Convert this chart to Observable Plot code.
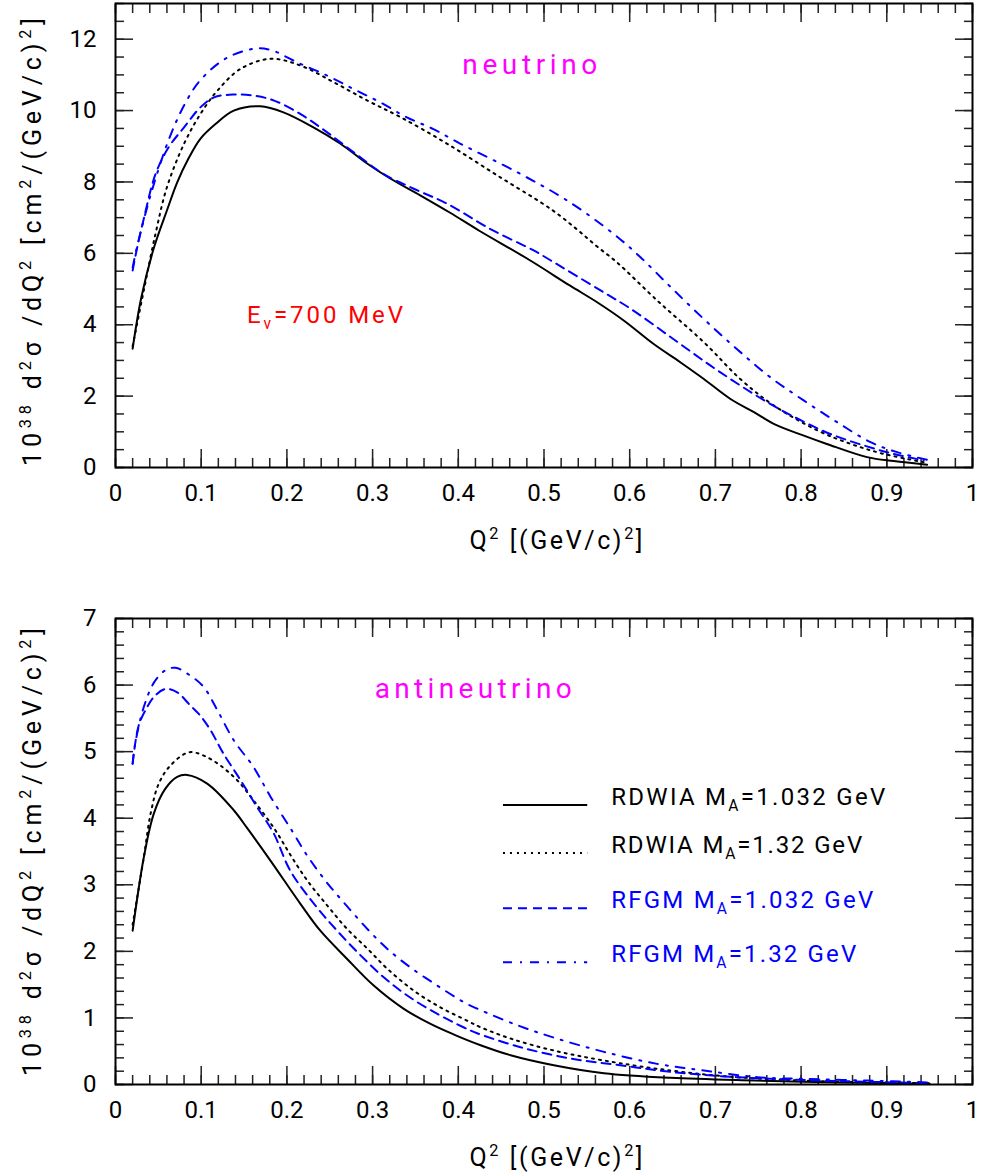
<!DOCTYPE html>
<html>
<head>
<meta charset="utf-8">
<script src="https://cdn.jsdelivr.net/npm/d3@7"></script>
<script src="https://cdn.jsdelivr.net/npm/@observablehq/plot@0.6"></script>
<style>
  html, body { margin: 0; padding: 0; background: #fff; }
  #chart svg { display: block; }
</style>
</head>
<body>
<div id="chart"></div>
<script>
// ---------------- data ----------------
const xMajor = [0, 0.1, 0.2, 0.3, 0.4, 0.5, 0.6, 0.7, 0.8, 0.9, 1];
const yMajorNu = [0, 2, 4, 6, 8, 10, 12];
const yMajorAnti = [0, 1, 2, 3, 4, 5, 6, 7];

const modelNames = ["RDWIA", "RDWIA", "RFGM", "RFGM"];
const axialMasses = ["1.032", "1.32", "1.032", "1.32"];

// neutrino, E = 700 MeV : [Q2, cross section]
const nuRdwia1032 = [[0.02,3.33],[0.03,4.75],[0.045,6.17],[0.06,7.2],[0.072,7.99],[0.085,8.65],[0.099,9.21],[0.117,9.63],[0.138,10.0],[0.169,10.12],[0.196,9.95],[0.231,9.53],[0.2625,9.07],[0.294,8.51],[0.321,8.09],[0.356,7.62],[0.391,7.13],[0.424,6.64],[0.484,5.80],[0.53,5.1],[0.562,4.63],[0.593,4.12],[0.628,3.46],[0.659,2.95],[0.6865,2.48],[0.7176,1.92],[0.745,1.55],[0.77,1.2],[0.80,0.92],[0.83,0.66],[0.877,0.29],[0.908,0.18],[0.947,0.08]];
const nuRdwia132 = [[0.02,3.4],[0.033,4.96],[0.0467,6.55],[0.06,7.85],[0.08,9.07],[0.099,9.9],[0.119,10.56],[0.146,11.17],[0.181,11.45],[0.216,11.26],[0.255,10.79],[0.294,10.28],[0.333,9.81],[0.387,9.07],[0.449,8.13],[0.508,7.24],[0.539,6.66],[0.562,6.19],[0.585,5.75],[0.632,4.68],[0.6865,3.51],[0.729,2.48],[0.768,1.74],[0.819,1.04],[0.858,0.66],[0.8965,0.38],[0.943,0.15]];
const nuRfgm1032 = [[0.02,5.52],[0.025,6.13],[0.033,6.97],[0.0467,8.22],[0.062,8.97],[0.08,9.53],[0.099,10.09],[0.115,10.37],[0.138,10.45],[0.161,10.42],[0.185,10.28],[0.216,9.9],[0.247,9.39],[0.278,8.83],[0.313,8.22],[0.348,7.81],[0.387,7.39],[0.4375,6.68],[0.488,6.08],[0.508,5.80],[0.566,4.96],[0.601,4.45],[0.648,3.65],[0.694,2.86],[0.729,2.30],[0.764,1.78],[0.80,1.32],[0.834,0.94],[0.873,0.62],[0.908,0.38],[0.943,0.20]];
const nuRfgm132 = [[0.02,5.6],[0.025,6.17],[0.043,7.8],[0.064,9.3],[0.0835,10.3],[0.099,10.85],[0.128,11.45],[0.161,11.73],[0.181,11.7],[0.212,11.35],[0.247,10.98],[0.278,10.6],[0.309,10.23],[0.34,9.81],[0.371,9.48],[0.4026,9.07],[0.469,8.27],[0.527,7.48],[0.581,6.55],[0.6126,5.89],[0.648,5.05],[0.6865,4.16],[0.725,3.32],[0.764,2.53],[0.803,1.88],[0.842,1.27],[0.881,0.71],[0.912,0.43],[0.95,0.2]];

// antineutrino
const antiRdwia1032 = [[0.02,2.31],[0.033,3.41],[0.0447,4.07],[0.058,4.44],[0.072,4.62],[0.0835,4.65],[0.107,4.52],[0.138,4.12],[0.1537,3.85],[0.181,3.36],[0.216,2.71],[0.239,2.31],[0.27,1.89],[0.301,1.49],[0.336,1.14],[0.3676,0.91],[0.395,0.75],[0.426,0.59],[0.461,0.44],[0.5115,0.29],[0.57,0.17],[0.6476,0.10],[0.745,0.06],[0.85,0.03],[0.95,0.01]];
const antiRdwia132 = [[0.02,2.4],[0.033,3.41],[0.041,4.07],[0.0505,4.52],[0.064,4.79],[0.0855,4.99],[0.103,4.94],[0.1225,4.79],[0.142,4.57],[0.161,4.27],[0.185,3.85],[0.204,3.45],[0.224,3.06],[0.247,2.69],[0.27,2.34],[0.294,2.04],[0.317,1.74],[0.348,1.41],[0.379,1.16],[0.41,0.96],[0.426,0.86],[0.461,0.69],[0.5115,0.51],[0.57,0.36],[0.6476,0.21],[0.725,0.11],[0.85,0.04],[0.95,0.02]];
const antiRfgm1032 = [[0.02,4.82],[0.027,5.39],[0.037,5.67],[0.0447,5.82],[0.058,5.94],[0.072,5.89],[0.0875,5.69],[0.099,5.54],[0.111,5.32],[0.126,4.97],[0.146,4.57],[0.165,4.17],[0.1847,3.77],[0.204,3.21],[0.235,2.66],[0.2586,2.31],[0.286,1.94],[0.313,1.61],[0.34,1.34],[0.3714,1.09],[0.406,0.86],[0.422,0.77],[0.4726,0.56],[0.531,0.39],[0.589,0.29],[0.6476,0.19],[0.725,0.11],[0.85,0.05],[0.95,0.02]];
const antiRfgm132 = [[0.02,4.82],[0.023,5.12],[0.033,5.67],[0.045,6.04],[0.058,6.22],[0.07,6.26],[0.0875,6.14],[0.103,5.97],[0.119,5.62],[0.138,5.17],[0.161,4.77],[0.181,4.32],[0.206,3.81],[0.2236,3.44],[0.245,3.06],[0.268,2.71],[0.2936,2.34],[0.317,2.04],[0.344,1.76],[0.375,1.49],[0.406,1.24],[0.422,1.14],[0.469,0.89],[0.515,0.69],[0.57,0.49],[0.632,0.31],[0.6865,0.21],[0.749,0.11],[0.80,0.085],[0.877,0.06],[0.95,0.03]];

// ---------------- styles / layout ----------------
const FONT = "Roboto, 'Liberation Sans', 'DejaVu Sans', sans-serif";
const BLUE = "#0000ff";
const seriesStyles = [
  {stroke: "#000", strokeWidth: 2, strokeDasharray: null},
  {stroke: "#000", strokeWidth: 2, strokeDasharray: "2,5"},
  {stroke: BLUE, strokeWidth: 2, strokeDasharray: "9,6"},
  {stroke: BLUE, strokeWidth: 2, strokeDasharray: "9,8,2,8"}
];
const xMinor = d3.range(0, 1.0001, 0.02).map(d => +d.toFixed(2));

function toRows(pairs) { return pairs.map(([q, v]) => ({q, v})); }

function panel({series, yDomain, yMajor, yMinorStep, height, marginTop, marginBottom}) {
  const yMinor = d3.range(yDomain[0], yDomain[1] + 1e-6, yMinorStep).map(d => +d.toFixed(2));
  const tk = {stroke: "#222", strokeWidth: 1.5, fill: null, label: null};
  return Plot.plot({
    width: 982, height, marginLeft: 115, marginRight: 10, marginTop, marginBottom,
    x: {domain: [0, 1], label: null},
    y: {domain: yDomain, label: null},
    style: {fontFamily: FONT, fontSize: "24px", background: "#fff", color: "#000"},
    marks: [
      Plot.axisX(xMinor, {...tk, anchor: "bottom", tickSize: -9}),
      Plot.axisX(xMinor, {...tk, anchor: "top", tickSize: -9}),
      Plot.axisX(xMajor, {...tk, anchor: "bottom", tickSize: -18}),
      Plot.axisX(xMajor, {...tk, anchor: "top", tickSize: -18}),
      Plot.axisY(yMinor, {...tk, anchor: "left", tickSize: -9}),
      Plot.axisY(yMinor, {...tk, anchor: "right", tickSize: -9}),
      Plot.axisY(yMajor, {...tk, anchor: "left", tickSize: -18}),
      Plot.axisY(yMajor, {...tk, anchor: "right", tickSize: -18}),
      Plot.axisX(xMajor, {anchor: "bottom", tickSize: 0, tickPadding: 16, label: null, tickFormat: d => String(d), fontSize: 24}),
      Plot.axisY(yMajor, {anchor: "left", tickSize: 0, tickPadding: 19, label: null, tickFormat: d => String(d), fontSize: 24}),
      ...series.map((s, i) => Plot.line(toRows(s), {x: "q", y: "v", curve: "catmull-rom", ...seriesStyles[i]})),
      Plot.frame({stroke: "#000", strokeWidth: 2})
    ]
  });
}

// rich text with sub/superscripts
function rich(svg, {x, y, parts, fill = "#000", size = 24, anchor = "start", rotate = 0, length = null}) {
  const t = d3.select(svg).append("text")
    .attr("transform", `translate(${x},${y}) rotate(${rotate})`)
    .attr("fill", fill).attr("font-family", FONT).attr("font-size", size)
    .attr("text-anchor", anchor);
  if (length) t.attr("textLength", length).attr("lengthAdjust", "spacing");
  let shift = 0;
  for (const [str, kind] of parts) {
    const target = kind === "sup" ? -0.42 * size : kind === "sub" ? 0.25 * size : 0;
    const ts = t.append("tspan").text(str).attr("dy", target - shift);
    if (kind) ts.attr("font-size", size * 0.65);
    shift = target;
  }
  return t;
}

const yTitleParts = [["10",""],["38","sup"],[" d",""],["2","sup"],["σ /dQ",""],["2","sup"],[" [cm",""],["2","sup"],["/(GeV/c)",""],["2","sup"],["]",""]];
const xTitleParts = [["Q",""],["2","sup"],[" [(GeV/c)",""],["2","sup"],["]",""]];

const chart = document.getElementById("chart");

// ---- top: neutrino ----
const nuPlot = panel({series: [nuRdwia1032, nuRdwia132, nuRfgm1032, nuRfgm132], yDomain: [0, 13], yMajor: yMajorNu, yMinorStep: 0.5, height: 600, marginTop: 3, marginBottom: 133});
chart.appendChild(nuPlot);
{
  const sx = nuPlot.scale("x").apply, sy = nuPlot.scale("y").apply;
  rich(nuPlot, {x: sx(0.484), y: sy(11.26) + 9, parts: [["neutrino",""]], fill: "#ff00ff", size: 28, anchor: "middle", length: 135});
  rich(nuPlot, {x: sx(0.154), y: sy(4.26) + 8, parts: [["E",""],["ν","sub"],["=700 MeV",""]], fill: "#ff0000", size: 24, length: 156});
  rich(nuPlot, {x: 556, y: 549, parts: xTitleParts, size: 25, anchor: "middle", length: 173});
  rich(nuPlot, {x: 41, y: 242, parts: yTitleParts, size: 25, anchor: "middle", rotate: -90, length: 448});
}

// ---- bottom: antineutrino ----
const antiPlot = panel({series: [antiRdwia1032, antiRdwia132, antiRfgm1032, antiRfgm132], yDomain: [0, 7], yMajor: yMajorAnti, yMinorStep: 0.2, height: 576, marginTop: 18, marginBottom: 92});
chart.appendChild(antiPlot);
{
  const sx = antiPlot.scale("x").apply, sy = antiPlot.scale("y").apply;
  rich(antiPlot, {x: sx(0.418), y: sy(5.93) + 9, parts: [["antineutrino",""]], fill: "#ff00ff", size: 28, anchor: "middle", length: 197});
  // legend
  const legendRowV = [4.19, 3.47, 2.64, 1.83];
  const legendTextWidth = [274, 251, 262, 245];
  const sw = d3.select(antiPlot);
  legendRowV.forEach((v, i) => {
    const st = seriesStyles[i];
    sw.append("line")
      .attr("x1", sx(0.4527)).attr("x2", sx(0.551)).attr("y1", sy(v)).attr("y2", sy(v))
      .attr("stroke", st.stroke).attr("stroke-width", st.strokeWidth)
      .attr("stroke-dasharray", st.strokeDasharray);
    rich(antiPlot, {x: sx(0.579), y: sy(v), parts: [[modelNames[i] + " M",""],["A","sub"],["=" + axialMasses[i] + " GeV",""]],
      fill: st.stroke, size: 24, length: legendTextWidth[i]});
  });
  rich(antiPlot, {x: 556, y: 566, parts: xTitleParts, size: 25, anchor: "middle", length: 173});
  rich(antiPlot, {x: 41, y: 252, parts: yTitleParts, size: 25, anchor: "middle", rotate: -90, length: 448});
}
</script>
</body>
</html>
